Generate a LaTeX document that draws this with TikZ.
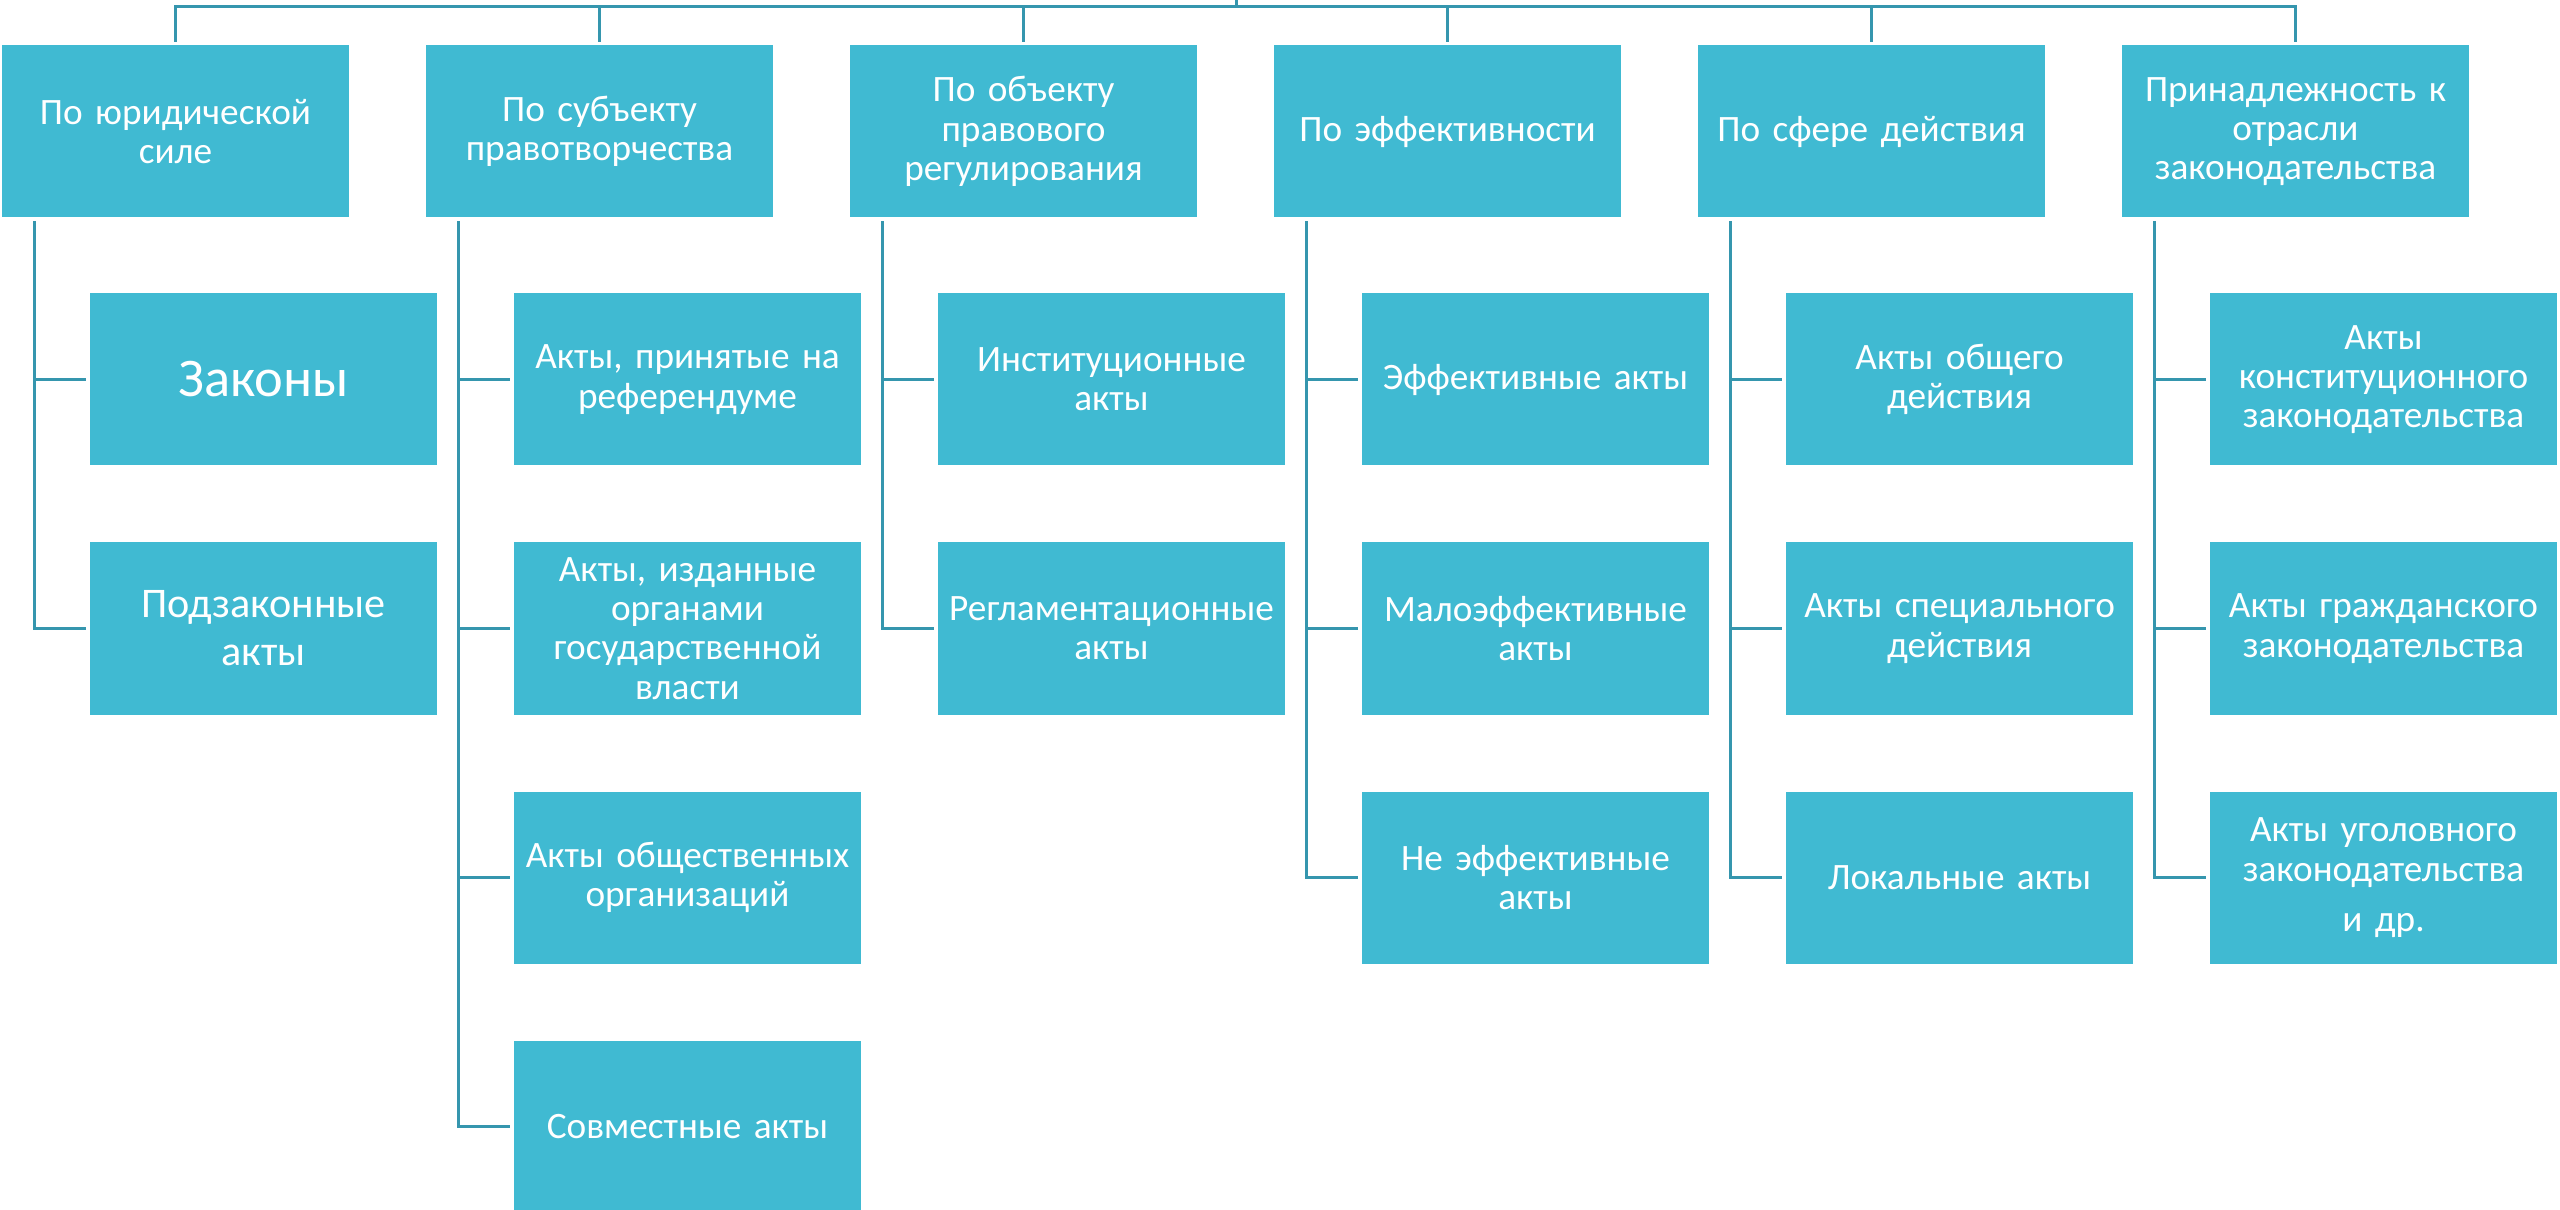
\documentclass[tikz,border=0pt]{standalone}
\usepackage{fontspec}
\setmainfont{Carlito}
\usetikzlibrary{positioning}

\definecolor{boxblue}{HTML}{40BAD2}
\definecolor{linkblue}{HTML}{3596AE}

\begin{document}
\begin{tikzpicture}[node distance=4.24cm, on grid,
    box/.style={rectangle, fill=boxblue, text=white, minimum width=3.47cm,
        minimum height=1.72cm, text width=3.45cm, inner sep=0pt, align=center,
        font=\fontsize{10.6}{11.2}\selectfont},
    link/.style={draw=linkblue, line width=0.85pt}]

    \useasboundingbox (0,0) rectangle (25.6,-12.1);

    % criteria
    \node[box] (yur) at (1.755,-1.315) {По юридической\\силе};
    \node[box] (subj) [right=of yur] {По субъекту\\правотворчества};
    \node[box] (obj) [right=of subj] {По объекту\\правового\\регулирования};
    \node[box] (eff) [right=of obj] {По эффективности};
    \node[box] (sfer) [right=of eff] {По сфере действия};
    \node[box] (otr) [right=of sfer] {Принадлежность к\\отрасли\\законодательства};

    % kinds of acts
    \node[box, font=\fontsize{15.5}{17}\selectfont] (zak) [below right=2.48cm and 0.88cm of yur] {Законы};
    \node[box, font=\fontsize{12}{13.7}\selectfont] (podz) [below=2.49cm of zak] {Подзаконные\\акты};

    \node[box] (ref) [below right=2.48cm and 0.88cm of subj] {Акты, принятые на\\референдуме};
    \node[box] (gos) [below=2.49cm of ref] {Акты, изданные\\органами\\государственной\\власти};
    \node[box] (org) [below=2.49cm of gos] {Акты общественных\\организаций};
    \node[box] (sovm) [below=2.49cm of org] {Совместные акты};

    \node[box] (inst) [below right=2.48cm and 0.88cm of obj] {Институционные\\акты};
    \node[box] (regl) [below=2.49cm of inst] {Регламентационные\\акты};

    \node[box] (effa) [below right=2.48cm and 0.88cm of eff] {Эффективные акты};
    \node[box] (malo) [below=2.49cm of effa] {Малоэффективные\\акты};
    \node[box] (neef) [below=2.49cm of malo] {Не эффективные\\акты};

    \node[box] (obsh) [below right=2.48cm and 0.88cm of sfer] {Акты общего\\действия};
    \node[box] (spec) [below=2.49cm of obsh] {Акты специального\\действия};
    \node[box] (lok) [below=2.49cm of spec] {Локальные акты};

    \node[box] (konst) [below right=2.48cm and 0.88cm of otr] {Акты\\конституционного\\законодательства};
    \node[box] (grazh) [below=2.49cm of konst] {Акты гражданского\\законодательства};
    \node[box] (ugol) [below=2.49cm of grazh] {Акты уголовного\\законодательства\\[3pt]и др.};

    % connectors
    \coordinate (root) at (12.36,0);
    \coordinate (bus) at (12.36,-0.07);
    \draw[link] (root) -- (bus);
    \foreach \p in {yur, subj, obj, eff, sfer, otr}
        \draw[link] (bus) -| ([yshift=0.03cm]\p.north);

    \foreach \p/\c in {yur/zak, yur/podz,
                       subj/ref, subj/gos, subj/org, subj/sovm,
                       obj/inst, obj/regl,
                       eff/effa, eff/malo, eff/neef,
                       sfer/obsh, sfer/spec, sfer/lok,
                       otr/konst, otr/grazh, otr/ugol}
        \draw[link] ([xshift=0.33cm, yshift=-0.03cm]\p.south west) |- ([xshift=-0.03cm]\c.west);

\end{tikzpicture}
\end{document}
